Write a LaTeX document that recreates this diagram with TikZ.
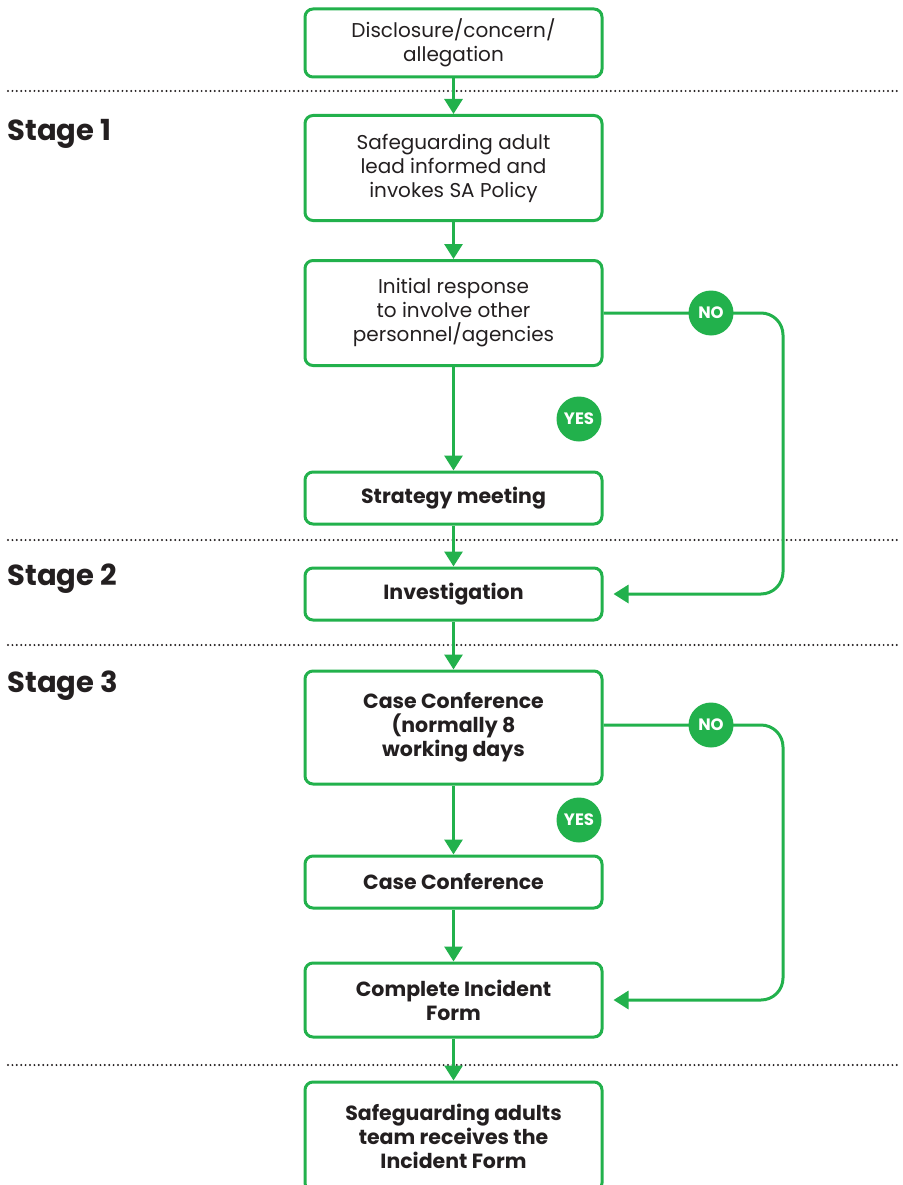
\documentclass[tikz,border=0pt]{standalone}
\usepackage{fontspec}
\setmainfont{Poppins}
\usepackage{tikz}
\usetikzlibrary{arrows.meta}
\usetikzlibrary{calc}

\definecolor{sgreen}{RGB}{34,177,76}
\definecolor{sink}{RGB}{35,31,32}

\tikzset{
    box/.style={draw=sgreen, line width=3pt, rounded corners=8pt, minimum width=297pt,
        align=center, text=sink, font=\fontsize{20}{24}\selectfont},
    boldbox/.style={box, font=\fontsize{20.5}{24}\selectfont\bfseries},
    badge/.style={circle, fill=sgreen, text=white, minimum size=45pt, inner sep=0pt,
        font=\fontsize{16.5}{16.5}\selectfont\bfseries},
    flow/.style={draw=sgreen, line width=3pt, -{Triangle[width=18pt,length=15pt]}},
    sep/.style={draw=sink, line width=2.2pt, line cap=round, dash pattern=on 0pt off 4.4pt},
    stage/.style={anchor=west, text=sink, font=\fontsize{29}{29}\selectfont\bfseries}
}

\begin{document}
\begin{tikzpicture}[x=1pt,y=-1pt]
    \useasboundingbox (0,0) rectangle (902,1185);

    % stage separators
    \draw[sep] (8,91) -- (900,91);
    \draw[sep] (8,540) -- (900,540);
    \draw[sep] (8,645) -- (900,645);
    \draw[sep] (8,1065) -- (900,1065);

    \node[stage] (st1) at (4,134) {Stage 1};
    \node[stage] (st2) at (4,579) {Stage 2};
    \node[stage] (st3) at (4,686) {Stage 3};

    % boxes
    \node[box, minimum height=68pt] (discl) at (453.5,43) {Disclosure/concern/\\allegation};
    \node[box, minimum height=105pt] (lead) at (453.5,168) {Safeguarding adult\\lead informed and\\invokes SA Policy};
    \node[box, minimum height=105pt] (init) at (453.5,313) {Initial response\\to involve other\\personnel/agencies};
    \node[boldbox, minimum height=52pt] (strat) at (453.5,498) {Strategy meeting};
    \node[boldbox, minimum height=52pt] (invest) at (453.5,594) {Investigation};
    \node[boldbox, minimum height=113pt] (confA) at (453.5,727.5) {Case Conference\\(normally 8\\working days};
    \node[boldbox, minimum height=52pt] (confB) at (453.5,882) {Case Conference};
    \node[boldbox, minimum height=74pt] (form) at (453.5,1000) {Complete Incident\\Form};
    \node[boldbox, minimum height=109pt] (team) at (453.5,1136.5) {Safeguarding adults\\team receives the\\Incident Form};

    % main flow
    \draw[flow] (discl) -- (lead);
    \draw[flow] (lead) -- (init);
    \draw[flow] (init) -- (strat);
    \draw[flow] (strat) -- (invest);
    \draw[flow] (invest) -- (confA);
    \draw[flow] (confA) -- (confB);
    \draw[flow] (confB) -- (form);
    \draw[flow] (form) -- (team);

    % yes / no branches
    \coordinate (turn1) at (783,313);
    \coordinate (turn2) at (783,725);
    \draw[flow, rounded corners=22pt, shorten >=10pt] (init.east |- turn1) -- (turn1) |- (invest.east);
    \draw[flow, rounded corners=22pt, shorten >=10pt] (confA.east |- turn2) -- (turn2) |- (form.east);

    \node[badge] (no1) at (711,313) {NO};
    \node[badge] (yes1) at (579,419) {YES};
    \node[badge] (no2) at (711,725) {NO};
    \node[badge] (yes2) at (579,820) {YES};

\end{tikzpicture}
\end{document}
